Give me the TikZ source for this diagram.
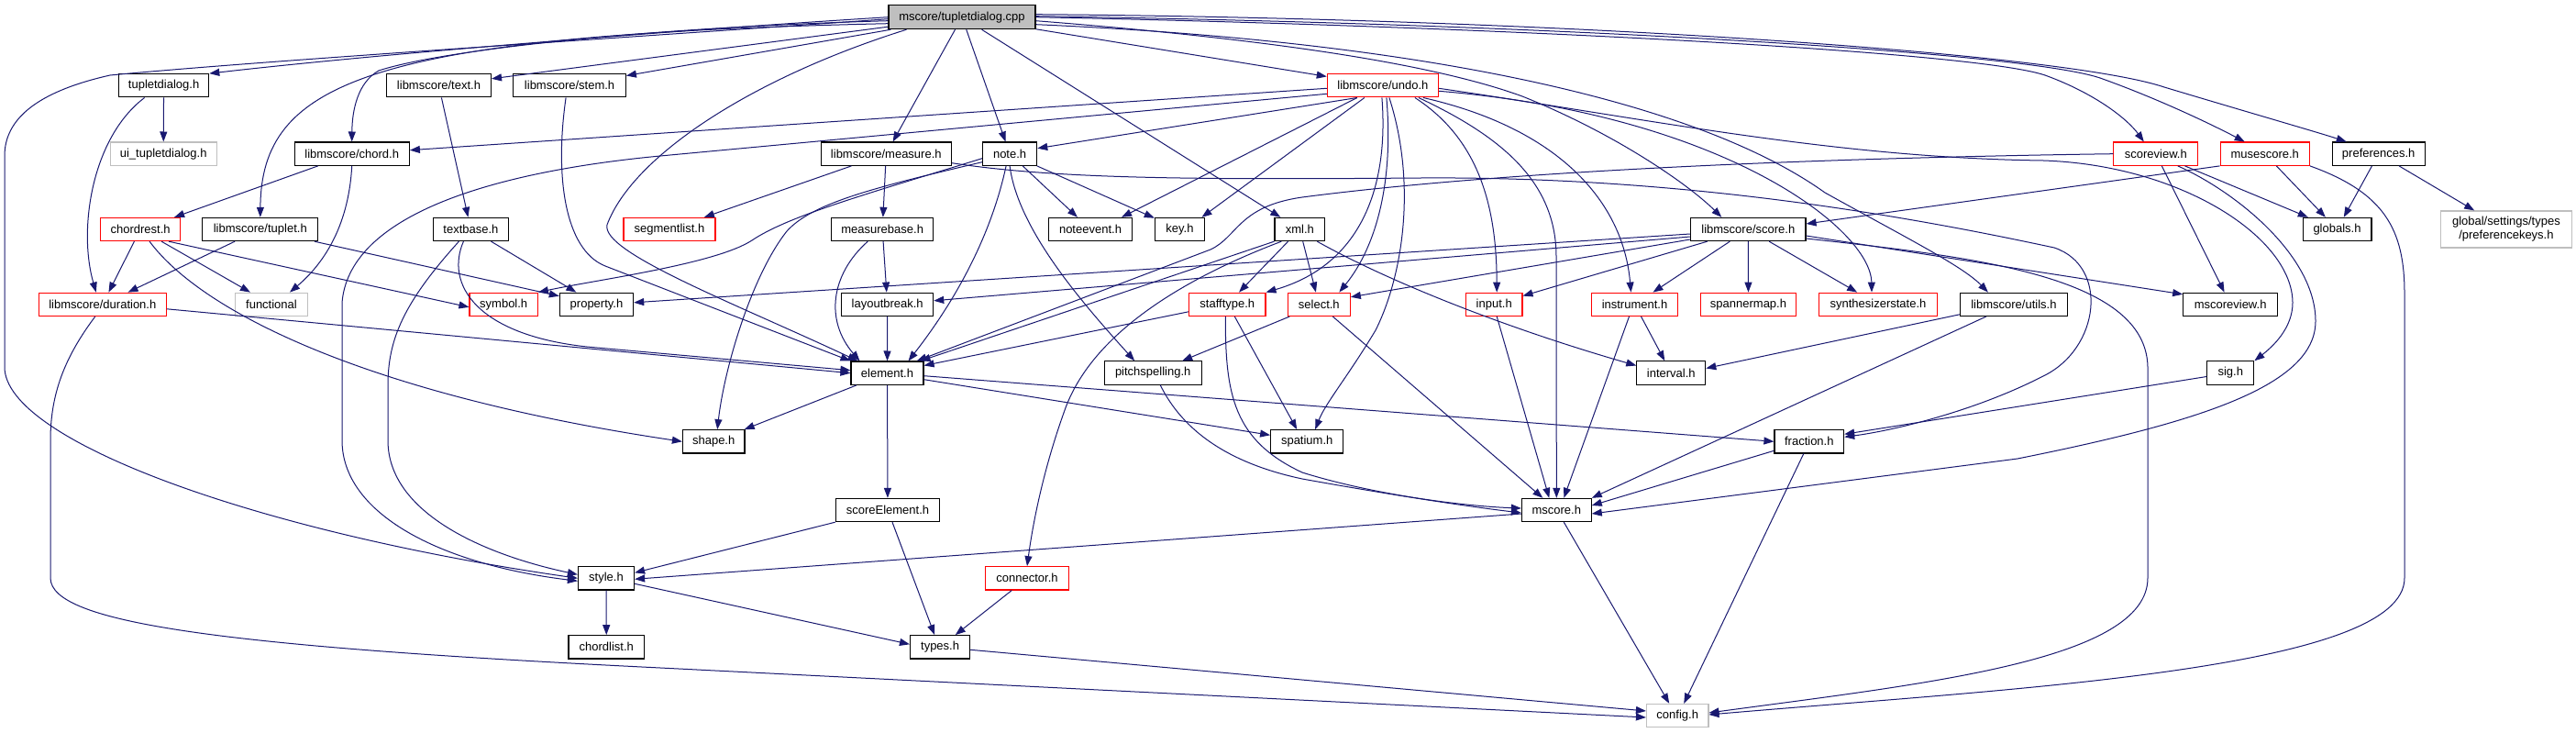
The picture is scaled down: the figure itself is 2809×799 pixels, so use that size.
\documentclass[tikz,border=0pt]{standalone}
\usepackage{fontspec}
\setmainfont{Liberation Sans}
\usetikzlibrary{arrows.meta}
\definecolor{edgec}{HTML}{191970}
\definecolor{grayb}{HTML}{BFBFBF}
\definecolor{redb}{HTML}{FF0000}
\begin{document}
\begin{tikzpicture}[x=1pt,y=-1pt,
  nb/.style={draw=black, line width=1.1pt, fill=white, minimum height=25.3pt, inner sep=0pt, font=\fontsize{13}{15}\selectfont, anchor=center},
  nr/.style={nb, draw=redb},
  ng/.style={nb, draw=grayb},
  edge/.style={draw=edgec, line width=1pt, -{Triangle[length=11pt,width=8pt]}},
]
\useasboundingbox[fill=white] (0,0) rectangle (2809,799);
% nodes
\node[nb, fill=grayb, minimum width=160pt, minimum height=26pt] (main) at (1049,18.7) {mscore/tupletdialog.cpp};
\node[nb, minimum width=98.3pt] (tdlg) at (178.6,93.3) {tupletdialog.h};
\node[nb, minimum width=114pt] (textH) at (478.5,93.3) {libmscore/text.h};
\node[nb, minimum width=122.6pt] (stemH) at (621.1,93.3) {libmscore/stem.h};
\node[nr, minimum width=121.2pt] (undo) at (1507.9,93.3) {libmscore/undo.h};
\node[ng, minimum width=115.7pt] (uitdlg) at (178.2,167.7) {ui\_tupletdialog.h};
\node[nb, minimum width=125.3pt] (chord) at (383.7,167.7) {libmscore/chord.h};
\node[nb, minimum width=142.3pt] (measure) at (966.3,167.7) {libmscore/measure.h};
\node[nb, minimum width=59.2pt] (note) at (1101.1,167.7) {note.h};
\node[nr, minimum width=91.8pt] (scoreview) at (2350.8,167.7) {scoreview.h};
\node[nr, minimum width=97.3pt] (musescore) at (2469.7,167.7) {musescore.h};
\node[nb, minimum width=101.1pt] (prefs) at (2593.7,167.7) {preferences.h};
\node[nr, minimum width=86.8pt] (chordrest) at (153.1,250) {chordrest.h};
\node[nb, minimum width=125.8pt] (tuplet) at (283.8,250) {libmscore/tuplet.h};
\node[nb, minimum width=82.7pt] (textbase) at (513.4,250) {textbase.h};
\node[nr, minimum width=100pt] (seglist) at (730,250) {segmentlist.h};
\node[nb, minimum width=111pt] (measurebase) at (962.2,250) {measurebase.h};
\node[nb, minimum width=91.4pt] (noteevent) at (1189,250) {noteevent.h};
\node[nb, minimum width=54.4pt] (keyH) at (1286.5,250) {key.h};
\node[nb, minimum width=54.7pt] (xml) at (1417.3,250) {xml.h};
\node[nb, minimum width=125.4pt] (score) at (1906.3,250) {libmscore/score.h};
\node[nb, minimum width=74.9pt] (globals) at (2548.5,250) {globals.h};
\node[ng, minimum width=142.3pt, minimum height=40pt, align=center] (prefkeys) at (2732.9,250) {global/settings/types\\/preferencekeys.h};
\node[nr, minimum width=139.2pt] (duration) at (111.8,331.8) {libmscore/duration.h};
\node[ng, minimum width=78.5pt] (functional) at (296,331.8) {functional};
\node[nr, minimum width=74.4pt] (symbol) at (549.2,331.8) {symbol.h};
\node[nb, minimum width=80.3pt] (property) at (650.5,331.8) {property.h};
\node[nb, minimum width=100pt] (layoutbreak) at (967.7,331.8) {layoutbreak.h};
\node[nr, minimum width=83.3pt] (stafftype) at (1338.3,331.8) {stafftype.h};
\node[nr, minimum width=68pt] (selectH) at (1438.3,331.8) {select.h};
\node[nr, minimum width=61.5pt] (inputH) at (1629.2,331.8) {input.h};
\node[nr, minimum width=94.6pt] (instrument) at (1782.5,331.8) {instrument.h};
\node[nr, minimum width=103.8pt] (spannermap) at (1906.5,331.8) {spannermap.h};
\node[nr, minimum width=129.5pt] (synth) at (2048,331.8) {synthesizerstate.h};
\node[nb, minimum width=117.1pt] (utils) at (2195.9,331.8) {libmscore/utils.h};
\node[nb, minimum width=102.8pt] (mscoreview) at (2432.1,331.8) {mscoreview.h};
\node[nb, minimum width=79pt] (element) at (967.5,406.7) {element.h};
\node[nb, minimum width=105.7pt] (pitchsp) at (1257.2,406.5) {pitchspelling.h};
\node[nb, minimum width=74.9pt] (interval) at (1822.3,406.5) {interval.h};
\node[nb, minimum width=51pt] (sig) at (2432.3,406.5) {sig.h};
\node[nb, minimum width=67.5pt] (shapeH) at (778.2,481.3) {shape.h};
\node[nb, minimum width=79.1pt] (spatium) at (1425.2,481.3) {spatium.h};
\node[nb, minimum width=75.7pt] (fraction) at (1972.8,481.3) {fraction.h};
\node[nb, minimum width=113.5pt] (scoreel) at (968,556) {scoreElement.h};
\node[nb, minimum width=75.8pt] (mscore) at (1697.3,556) {mscore.h};
\node[nb, minimum width=61.1pt] (styleH) at (661,630.3) {style.h};
\node[nr, minimum width=90.5pt] (connector) at (1120,630.3) {connector.h};
\node[nb, minimum width=82.6pt] (chordlist) at (661.3,705.3) {chordlist.h};
\node[nb, minimum width=65.2pt] (types) at (1025.1,705.3) {types.h};
\node[ng, minimum width=67.5pt] (config) at (1829.2,780) {config.h};
% edges from main
\draw[edge] (main.west) .. controls (750,32) and (420,58) .. (tdlg.north east);
\draw[edge] ([yshift=-2pt]main.west) .. controls (700,40) and (300,65) .. (120,82) .. controls (40,100) and (5,130) .. (5,170) -- (5,400) .. controls (5,480) and (280,580) .. (styleH.west);
\draw[edge] (main) -- (textH);
\draw[edge] (main) -- (stemH);
\draw[edge] ([yshift=-4pt]main.west) .. controls (700,30) and (480,55) .. (413,77) .. controls (390,90) and (384,120) .. (chord.north);
\draw[edge] ([yshift=-7pt]main.west) .. controls (400,38) and (285,90) .. (tuplet.north);
\draw[edge] ([xshift=20pt]main.south west) .. controls (820,85) and (690,170) .. (662,245) .. controls (655,275) and (800,330) .. ([xshift=8pt]element.north west);
\draw[edge] (main) -- (measure);
\draw[edge] (main) -- (note);
\draw[edge] (main) -- (xml);
\draw[edge] (main) -- (undo);
\draw[edge] ([yshift=-4pt]main.east) .. controls (1350,40) and (1550,65) .. (1660,105) .. controls (1760,145) and (1840,200) .. ([xshift=-29pt]score.north);
\draw[edge] ([yshift=-8pt]main.east) .. controls (1550,45) and (1850,110) .. (1990,210) .. controls (2080,260) and (2140,290) .. ([xshift=-28pt]utils.north);
\draw[edge] (main.east) .. controls (1600,28) and (2150,55) .. (2230,82) .. controls (2285,102) and (2320,130) .. ([xshift=-13pt]scoreview.north);
\draw[edge] ([yshift=1pt]main.east) .. controls (1650,25) and (2200,55) .. (2290,85) .. controls (2360,110) and (2420,140) .. ([xshift=-22pt]musescore.north);
\draw[edge] ([yshift=3pt]main.east) .. controls (1700,20) and (2250,58) .. (2360,95) .. controls (2450,122) and (2530,145) .. ([xshift=-35pt]prefs.north);
% tupletdialog, text, stem
\draw[edge] (tdlg) -- (uitdlg);
\draw[edge] ([xshift=-21pt]tdlg.south) .. controls (100,150) and (85,250) .. ([xshift=-7pt]duration.north);
\draw[edge] (textH) -- (textbase);
\draw[edge] ([xshift=-4pt]stemH.south) .. controls (605,190) and (615,272) .. (660,290) -- (element.north west);
% chord, chordrest, tuplet, textbase
\draw[edge] (chord) -- (chordrest);
\draw[edge] (chord.south) .. controls (380,250) and (350,290) .. ([xshift=20pt]functional.north);
\draw[edge] (chordrest) -- (duration);
\draw[edge] (chordrest) -- (functional);
\draw[edge] ([xshift=-13pt]chordrest.south east) -- ([yshift=-3pt]symbol.west);
\draw[edge] ([xshift=10pt]chordrest.south) .. controls (220,340) and (400,430) .. (shapeH.west);
\draw[edge] (tuplet) -- (duration);
\draw[edge] (tuplet) -- (property);
\draw[edge] (textbase) -- (property);
\draw[edge] ([xshift=-8pt]textbase.south) .. controls (485,310) and (520,365) .. (640,378) -- ([yshift=3pt]element.west);
\draw[edge] ([xshift=-13pt]textbase.south) .. controls (440,330) and (423,370) .. (423,420) -- (423,480) .. controls (423,560) and (530,605) .. ([yshift=4pt]styleH.west);
% duration
\draw[edge] ([yshift=-5pt]duration.east) -- (element.west);
\draw[edge] ([xshift=-8pt]duration.south) .. controls (70,390) and (55,430) .. (55,480) -- (55,630) .. controls (55,680) and (250,705) .. (720,728) -- ([yshift=-2pt]config.west);
% measure, measurebase, layoutbreak
\draw[edge] (measure) -- (seglist);
\draw[edge] (measure) -- (measurebase);
\draw[edge] ([yshift=-10pt]measure.east) .. controls (1150,195) and (1300,196) .. (1550,194) .. controls (1850,192) and (2100,240) .. (2240,270) .. controls (2300,290) and (2290,380) .. (2228,410) .. controls (2150,450) and (2060,470) .. ([yshift=5pt]fraction.east);
\draw[edge] (measurebase) -- (layoutbreak);
\draw[edge] ([xshift=-16pt]measurebase.south) .. controls (905,300) and (900,350) .. ([xshift=-30pt]element.north);
\draw[edge] (layoutbreak) -- (element);
% note
\draw[edge] ([yshift=-5pt]note.west) .. controls (950,210) and (860,235) .. (820,262) .. controls (780,288) and (650,305) .. (symbol.north east);
\draw[edge] ([yshift=-9pt]note.west) .. controls (950,205) and (885,222) .. (858,252) .. controls (820,300) and (790,400) .. ([xshift=4pt]shapeH.north);
\draw[edge] ([xshift=-4pt]note.south) .. controls (1080,260) and (1040,330) .. ([xshift=23pt]element.north);
\draw[edge] (note) -- (noteevent);
\draw[edge] (note) -- (keyH);
\draw[edge] (note.south) .. controls (1110,250) and (1180,330) .. ([xshift=-20pt]pitchsp.north);
% xml
\draw[edge] (xml.south west) -- ([xshift=-4pt]element.north east);
\draw[edge] (xml) -- (stafftype);
\draw[edge] (xml) -- (selectH);
\draw[edge] ([xshift=19pt]xml.south) .. controls (1520,310) and (1650,360) .. ([yshift=8pt]interval.west);
\draw[edge] ([xshift=-20pt]xml.south) .. controls (1300,300) and (1190,360) .. (1160,450) .. controls (1135,520) and (1125,580) .. (connector.north);
% undo
\draw[edge] ([yshift=-3pt]undo.west) -- ([yshift=4pt]chord.east);
\draw[edge] ([yshift=-9pt]undo.west) -- (720,170) .. controls (520,189) and (380,240) .. (373,330) -- (373,480) .. controls (373,560) and (480,615) .. ([yshift=-3pt]styleH.west);
\draw[edge] ([xshift=-28pt]undo.south) -- ([yshift=6pt]note.east);
\draw[edge] ([xshift=-28pt]undo.south) -- ([xshift=34pt]noteevent.north);
\draw[edge] ([xshift=-20pt]undo.south) -- ([xshift=24pt]keyH.north);
\draw[edge] ([xshift=-1pt]undo.south) .. controls (1515,210) and (1480,290) .. (stafftype.north east);
\draw[edge] ([xshift=4pt]undo.south) .. controls (1520,200) and (1500,270) .. ([xshift=22pt]selectH.north);
\draw[edge] ([xshift=7pt]undo.south) .. controls (1545,200) and (1530,300) .. (1500,360) .. controls (1470,410) and (1445,440) .. ([xshift=9pt]spatium.north);
\draw[edge] ([xshift=35pt]undo.south) .. controls (1610,150) and (1632,220) .. ([xshift=3pt]inputH.north);
\draw[edge] ([xshift=39pt]undo.south) .. controls (1640,150) and (1697,200) .. (1697,280) -- (mscore.north);
\draw[edge] ([xshift=44pt]undo.south) .. controls (1700,140) and (1770,220) .. ([xshift=-4pt]instrument.north);
\draw[edge] ([yshift=-6pt]undo.east) .. controls (1880,125) and (2040,250) .. ([xshift=-7pt]synth.north);
\draw[edge] ([yshift=-3pt]undo.east) .. controls (1800,130) and (2000,172) .. (2228,175) .. controls (2380,180) and (2500,260) .. (2500,330) .. controls (2500,358) and (2478,378) .. (sig.north east);
% score
\draw[edge] ([yshift=-5pt]score.west) -- ([yshift=2pt]property.east);
\draw[edge] ([yshift=-8pt]score.west) -- ([yshift=4pt]layoutbreak.east);
\draw[edge] ([yshift=-11pt]score.west) -- ([yshift=8pt]selectH.east);
\draw[edge] (score) -- (inputH);
\draw[edge] (score) -- (instrument);
\draw[edge] (score) -- (spannermap);
\draw[edge] (score) -- (synth);
\draw[edge] ([yshift=-7pt]score.east) -- ([yshift=11pt]mscoreview.west);
\draw[edge] ([yshift=-10pt]score.east) .. controls (2150,280) and (2340,300) .. (2342,400) -- (2342,630) .. controls (2342,720) and (2100,745) .. ([yshift=3pt]config.east);
% musescore, preferences
\draw[edge] (musescore.south west) -- ([yshift=6pt]score.east);
\draw[edge] (musescore) -- (globals);
\draw[edge] (musescore.south east) .. controls (2600,210) and (2622,250) .. (2622,320) -- (2622,630) .. controls (2622,730) and (2200,750) .. ([yshift=1pt]config.east);
\draw[edge] (prefs) -- (globals);
\draw[edge] (prefs) -- (prefkeys);
% scoreview
\draw[edge] (scoreview.west) .. controls (2000,172) and (1650,185) .. (1420,215) .. controls (1350,225) and (1350,258) .. (1320,272) -- ([xshift=-8pt]element.north east);
\draw[edge] (scoreview) -- (mscoreview);
\draw[edge] (scoreview) -- (globals);
\draw[edge] ([xshift=24pt]scoreview.south) .. controls (2440,210) and (2525,280) .. (2525,350) .. controls (2525,420) and (2400,460) .. (2200,500) -- ([yshift=-4pt]mscore.east);
% utils
\draw[edge] ([yshift=-11pt]utils.west) -- ([yshift=5pt]interval.east);
\draw[edge] ([xshift=-30pt]utils.south) -- (mscore.north east);
% stafftype, select, input, instrument, pitchspelling
\draw[edge] ([yshift=-8pt]stafftype.west) -- ([yshift=-5pt]element.north east);
\draw[edge] ([xshift=8pt]stafftype.south) -- ([xshift=-11pt]spatium.north);
\draw[edge] ([xshift=-2pt]stafftype.south) .. controls (1336,430) and (1345,480) .. (1420,515) .. controls (1500,540) and (1600,552) .. ([yshift=2pt]mscore.west);
\draw[edge] (selectH) -- (pitchsp);
\draw[edge] ([xshift=15pt]selectH.south) -- ([xshift=-15pt]mscore.north);
\draw[edge] ([xshift=3pt]inputH.south) -- ([xshift=-8pt]mscore.north);
\draw[edge] (instrument) -- (interval);
\draw[edge] ([xshift=-6pt]instrument.south) -- ([xshift=8pt]mscore.north);
\draw[edge] ([xshift=8pt]pitchsp.south) .. controls (1290,470) and (1340,505) .. (1420,522) .. controls (1520,540) and (1600,552) .. ([yshift=-3pt]mscore.west);
% element and below
\draw[edge] (element) -- (shapeH);
\draw[edge] (element) -- (scoreel);
\draw[edge] ([yshift=-7pt]element.east) -- ([yshift=7pt]spatium.west);
\draw[edge] ([yshift=-3pt]element.east) -- (fraction.west);
\draw[edge] (scoreel.south west) -- ([yshift=6pt]styleH.east);
\draw[edge] ([xshift=5pt]scoreel.south) -- ([xshift=-6pt]types.north);
\draw[edge] (connector) -- (types);
\draw[edge] (styleH) -- (chordlist);
\draw[edge] ([yshift=-6pt]styleH.east) -- ([yshift=3pt]types.west);
\draw[edge] ([yshift=-3pt]types.east) -- ([yshift=5pt]config.west);
\draw[edge] ([yshift=-4pt]mscore.west) -- ([yshift=-1pt]styleH.east);
\draw[edge] ([xshift=8pt]mscore.south) -- ([xshift=-9pt]config.north);
\draw[edge] ([yshift=-10pt]fraction.west) -- ([yshift=5pt]mscore.east);
\draw[edge] ([xshift=-6pt]fraction.south) -- ([xshift=7pt]config.north);
\draw[edge] ([yshift=-4pt]sig.west) -- ([yshift=8pt]fraction.east);
\end{tikzpicture}
\end{document}
